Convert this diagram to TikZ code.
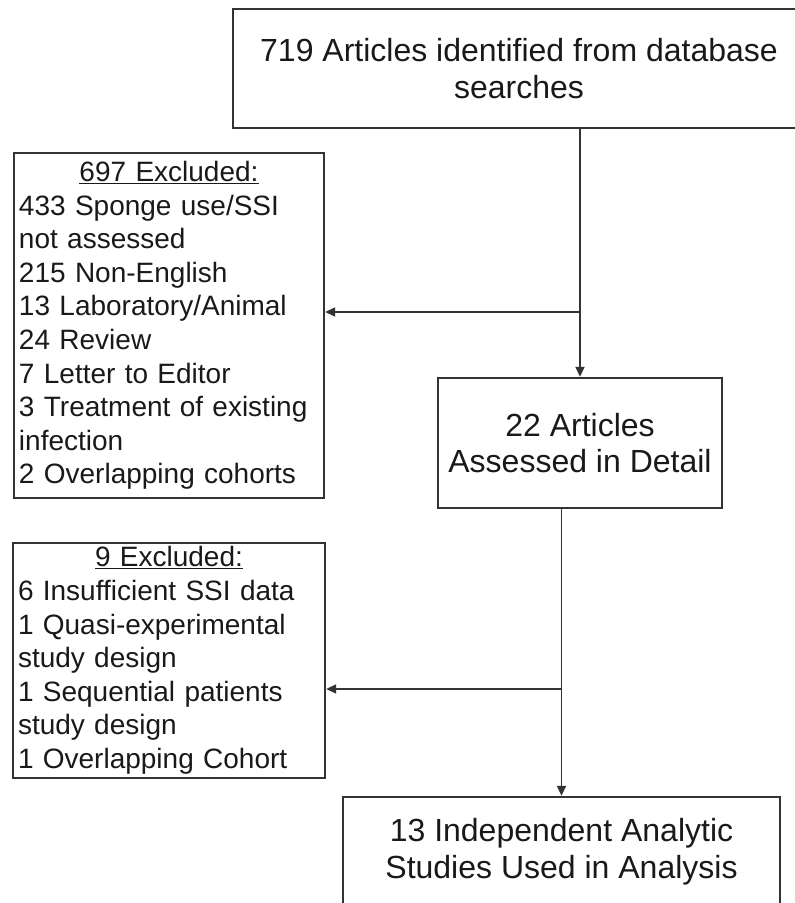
\documentclass[tikz,border=0pt]{standalone}
\usepackage{fontspec}
\setmainfont{Liberation Sans}
\usetikzlibrary{arrows.meta,positioning}
\tikzset{
  flow node/.style={draw=black!80,line width=2.4pt,inner sep=0pt,align=center,
    text=black!90,font=\fontsize{32}{36.8}\selectfont},
  excluded node/.style={flow node,align=left,inner xsep=5pt,
    font=\fontsize{28}{33.6}\selectfont},
  flow arrow/.style={-{Triangle[length=10pt,width=9pt]},line width=1.8pt,black!80},
}

\begin{document}
\begin{tikzpicture}[x=1pt,y=1pt]
  \useasboundingbox (0,0) rectangle (795,903);
  \node[flow node,minimum width=572pt,minimum height=119pt] (found)
    at (519,834.5) {719 Articles identified from database\\searches};
  \node[excluded node,text width=300pt,minimum height=345pt] (excl1)
    at (169,577.5) {\makebox[\hsize]{\underline{697 Excluded:}}\\
    433 Sponge use/SSI\\not assessed\\215 Non-English\\
    13 Laboratory/Animal\\24 Review\\7 Letter to Editor\\
    3 Treatment of existing\\infection\\2 Overlapping cohorts};
  \node[flow node,minimum width=284pt,minimum height=130pt] (detail)
    at (580,460) {22 Articles\\Assessed in Detail};
  \node[excluded node,text width=302pt,minimum height=235pt] (excl2)
    at (169,242.5) {\makebox[\hsize]{\underline{9 Excluded:}}\\
    6 Insufficient SSI data\\1 Quasi-experimental\\study design\\
    1 Sequential patients\\study design\\1 Overlapping Cohort};
  \node[flow node,minimum width=437pt,minimum height=109pt] (final)
    at (561.5,51.5) {13 Independent Analytic\\Studies Used in Analysis};
  % split points of the two exclusion branches
  \coordinate (split1) at (580,591);
  \coordinate (split2) at (561.5,214);
  \draw[flow arrow] (detail.north |- found.south) -- (detail.north);
  \draw[flow arrow] (split1) -- (split1 -| excl1.east);
  \draw[flow arrow] (final.north |- detail.south) -- (final.north);
  \draw[flow arrow] (split2) -- (split2 -| excl2.east);
\end{tikzpicture}
\end{document}
